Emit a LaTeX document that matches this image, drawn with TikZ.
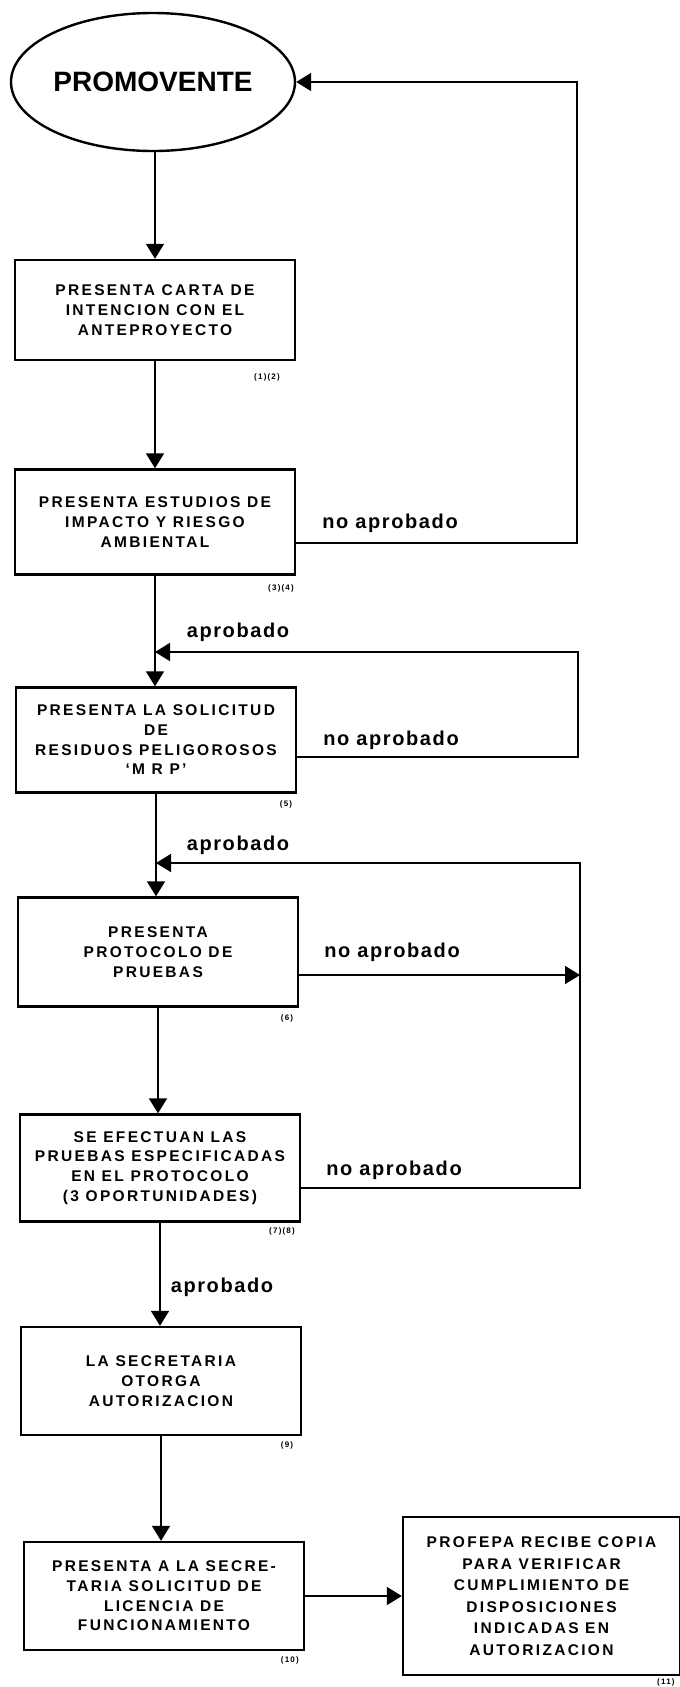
\documentclass[tikz,border=0pt]{standalone}
\usepackage{fontspec}
\setmainfont{Liberation Sans}
\newfontfamily\cajafont[LetterSpace=15]{Liberation Sans}
\newfontfamily\rotfont[LetterSpace=8]{Liberation Sans}
\usetikzlibrary{arrows.meta,shapes.geometric}

\begin{document}
\begin{tikzpicture}[x=1pt,y=-1pt,>={Triangle[width=18pt,length=15pt]},
  caja/.style={draw,line width=2.4pt,minimum width=280pt,align=center,
    font=\cajafont\bfseries\fontsize{15.5}{19.7}\selectfont},
  flujo/.style={line width=1.8pt},
  rotulo/.style={font=\rotfont\bfseries\fontsize{20}{20}\selectfont,inner sep=0pt},
  nota/.style={font=\cajafont\bfseries\fontsize{8}{8}\selectfont,inner sep=0pt}]
\clip (0,0) rectangle (680,1687);
\node[ellipse,draw,line width=2.4pt,minimum width=284pt,minimum height=138pt,
  inner xsep=-4pt,inner ysep=0pt,font=\bfseries\fontsize{28}{30}\selectfont]
  (promo) at (153,82) {PROMOVENTE};
\node[caja,minimum height=100pt] (carta) at (155,310)
  {PRESENTA CARTA DE\\INTENCION CON EL\\ANTEPROYECTO};
\node[caja,minimum height=105pt] (estudios) at (155,522)
  {PRESENTA ESTUDIOS DE\\IMPACTO Y RIESGO\\AMBIENTAL};
\node[caja,minimum height=105pt] (solicitud) at (156,740)
  {PRESENTA LA SOLICITUD\\DE\\RESIDUOS PELIGOROSOS\\‘M R P’};
\node[caja,minimum height=109pt] (protocolo) at (158,952)
  {PRESENTA\\PROTOCOLO DE\\PRUEBAS};
\node[caja,minimum height=107pt] (pruebas) at (160,1168)
  {SE EFECTUAN LAS\\PRUEBAS ESPECIFICADAS\\EN EL PROTOCOLO\\(3 OPORTUNIDADES)};
\node[caja,minimum height=108pt] (otorga) at (161,1381)
  {LA SECRETARIA\\OTORGA\\AUTORIZACION};
\node[caja,minimum height=108pt] (licencia) at (164,1596)
  {PRESENTA A LA SECRE-\\TARIA SOLICITUD DE\\LICENCIA DE\\FUNCIONAMIENTO};
\node[caja,minimum width=277pt,minimum height=158pt,
  font=\cajafont\bfseries\fontsize{15.5}{21.5}\selectfont] (profepa) at (541.5,1596)
  {PROFEPA RECIBE COPIA\\PARA VERIFICAR\\CUMPLIMIENTO DE\\DISPOSICIONES\\INDICADAS EN\\AUTORIZACION};
% numeros de referencia
\node[nota,anchor=east] (ref12) at (280,377) {(1)(2)};
\node[nota,anchor=east] (ref34) at (294,588) {(3)(4)};
\node[nota] (ref5) at (286,804) {(5)};
\node[nota] (ref6) at (287,1018) {(6)};
\node[nota,anchor=east] (ref78) at (295,1231) {(7)(8)};
\node[nota] (ref9) at (287,1445) {(9)};
\node[nota,anchor=east] (ref10) at (299,1660) {(10)};
\node[nota,anchor=west] (ref11) at (657,1682) {(11)};
% esquinas del lado derecho
\coordinate (der1) at (577,82);
\coordinate (der2) at (578,652);
\coordinate (der3) at (580,863);
\coordinate (sal4) at ([yshift=-23pt]protocolo.east);
% columna principal
\draw[flujo,->] (carta.north |- promo.south) -- (carta.north);
\draw[flujo,->] (carta.south) -- (carta.south |- estudios.north);
\draw[flujo,->] (estudios.south) -- (estudios.south |- solicitud.north);
\draw[flujo,->] (solicitud.south) -- (solicitud.south |- protocolo.north);
\draw[flujo,->] (protocolo.south) -- (protocolo.south |- pruebas.north);
\draw[flujo,->] (pruebas.south) -- (pruebas.south |- otorga.north);
\draw[flujo,->] (otorga.south) -- (otorga.south |- licencia.north);
\draw[flujo,->] (licencia.east) -- (licencia.east -| profepa.west);
% retornos
\draw[flujo,->] ([yshift=-21pt]estudios.east) -| (der1) -- (promo.east);
\draw[flujo,->] ([yshift=-17pt]solicitud.east) -| (der2) -- (der2 -| estudios.south);
\draw[flujo,->] ([yshift=-20pt]pruebas.east) -| (der3) -- (der3 -| solicitud.south);
\draw[flujo,->] (sal4) -- (sal4 -| der3);
\node[rotulo] (no1) at (390,523) {no aprobado};
\node[rotulo] (no2) at (391,740) {no aprobado};
\node[rotulo] (no3) at (392,952) {no aprobado};
\node[rotulo] (no4) at (394,1170) {no aprobado};
\node[rotulo] (si1) at (238,632) {aprobado};
\node[rotulo] (si2) at (238,845) {aprobado};
\node[rotulo] (si3) at (222,1287) {aprobado};
\end{tikzpicture}
\end{document}
